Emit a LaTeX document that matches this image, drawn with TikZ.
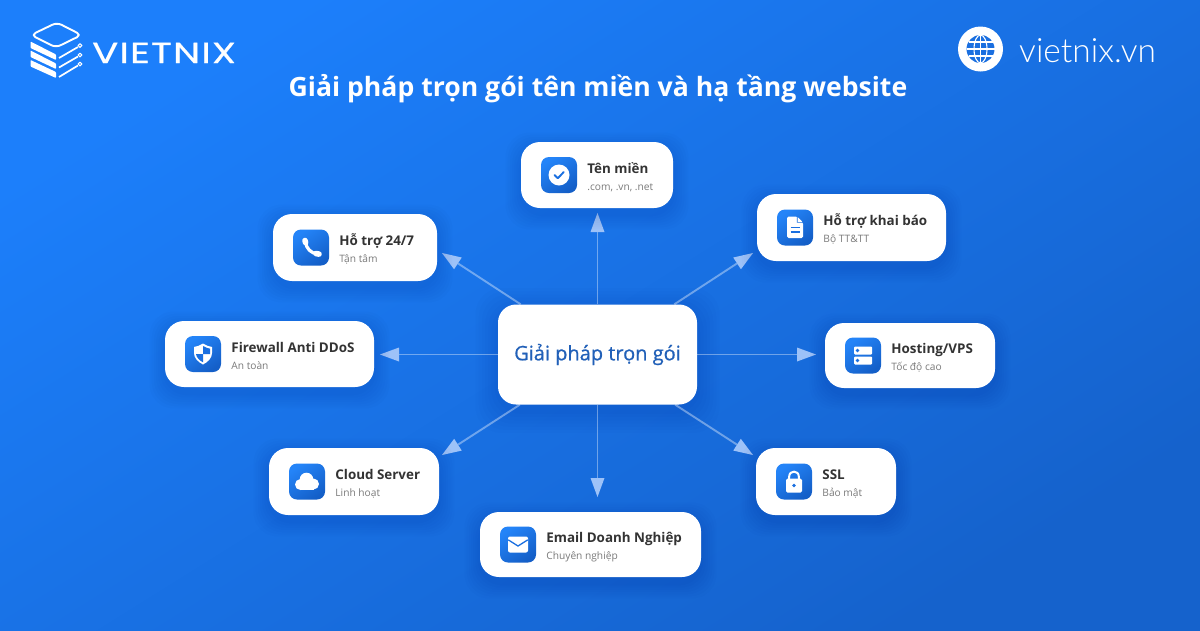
\documentclass[tikz,border=0pt]{standalone}
\usepackage{graphicx,pgf}
\usepackage{tikz}
\usepackage{fontspec}
\setmainfont{Open Sans}
\newfontfamily\hubfont[FakeBold=.7]{Open Sans}
\newfontfamily\logofont[FakeStretch=1.33,LetterSpace=4,FakeBold=.8]{Poppins}
\newfontfamily\sitefont{Lato Light}
\usetikzlibrary{positioning,arrows.meta}

\definecolor{bgtop}{HTML}{1C7FFB}
\definecolor{bgbot}{HTML}{1562CC}
\definecolor{icontop}{HTML}{2484F8}
\definecolor{iconbot}{HTML}{145FC8}
\definecolor{icondark}{HTML}{1A6FE0}
\definecolor{hubtext}{HTML}{2160B8}
\definecolor{titletext}{HTML}{333333}
\definecolor{subtext}{HTML}{7A7A7A}
\definecolor{headblue}{HTML}{9DC2F8}

\tikzset{
  cardbox/.style={fill=white, rounded corners=19pt, inner sep=0pt},
  iconbox/.style={rounded corners=8pt, minimum size=36pt, inner sep=0pt, top color=icontop, bottom color=iconbot, shading angle=35},
  cardtitle/.style={inner sep=0pt, anchor=base west, text=titletext, font=\fontsize{13.4}{16}\selectfont\bfseries},
  cardsub/.style={inner sep=0pt, anchor=base west, text=subtext, font=\fontsize{10.2}{12}\selectfont},
  link/.style={draw=white, draw opacity=.38, line width=1.9pt, -{Triangle[length=19pt,width=14pt,color=headblue,fill=headblue,line width=0pt]}},
  glyph/.style={fill=white, draw=none},
  glyphline/.style={draw=icondark, line width=1.6pt, line cap=round, line join=round},
}

% shadow, box, icon and both texts of one card
\newcommand{\softshadow}[6]{
  \foreach \g in {1,...,7}{
    \fill[black!60!blue, opacity=.014, rounded corners=#6pt]
      ({#1-#3/2-\g*#5},{#2-#4/2-\g*#5+6}) rectangle ({#1+#3/2+\g*#5},{#2+#4/2+\g*#5+6});
  }
}
\newcommand{\card}[7]{
  \softshadow{#2}{#3}{#4}{#5}{2.2}{24}
  \node[cardbox, minimum width=#4pt, minimum height=#5pt] (#1) at (#2,#3) {};
  \node[iconbox, right=20pt of #1.west] (#1-icon) {};
  \node[cardtitle] (#1-title) at ([xshift=10pt,yshift=2pt]#1-icon.east) {#6};
  \node[cardsub] (#1-sub) at ([xshift=10pt,yshift=-15pt]#1-icon.east) {#7};
}

\begin{document}
\begin{tikzpicture}[x=1pt,y=-1pt]

\useasboundingbox (0,0) rectangle (1200,630);
\shade[top color=bgtop, bottom color=bgbot, shading angle=32] (0,0) rectangle (1200,630);

\begin{scope}[white, line join=round]
\draw[line width=1.9pt, rounded corners=5pt] (31,35) -- (57,22.5) -- (81.5,35) -- (56,47.5) -- cycle;
\fill[rounded corners=.8pt] (30.5,41.5) -- (56,54.5) -- (56,60) -- (30.5,48) -- cycle;
\fill[rounded corners=.8pt] (30.5,50.5) -- (56,63.5) -- (56,69) -- (30.5,57) -- cycle;
\fill[rounded corners=.8pt] (30.5,60) -- (56,72) -- (56,78) -- (30.5,66.5) -- cycle;
\draw[line width=1.7pt] (59,58) -- (78,47);
\draw[line width=1.7pt] (59,67.5) -- (78,56.5);
\draw[line width=1.7pt] (59,77) -- (78,65.5);
\draw[line width=1pt] (80,45.5) circle (1.9);
\draw[line width=1pt] (80,55) circle (1.9);
\draw[line width=1pt] (80,64) circle (1.9);
\end{scope}
\node[text=white, anchor=base west, inner sep=0pt, font=\logofont\fontsize{29}{30}\selectfont] (brand) at (92,63) {VIETNIX};

\node[circle, fill=white, minimum size=45pt, inner sep=0pt] (globe) at (980.5,49) {};
\begin{scope}[shift={(globe.center)}]
\fill[icondark] (0,0) circle (14);
\draw[white, line width=1.1pt] (0,0) ellipse (6.5 and 14);
\draw[white, line width=1.1pt] (0,-14) -- (0,14);
\draw[white, line width=1.1pt] (-14,0) -- (14,0);
\draw[white, line width=1.1pt] (-12,-7) -- (12,-7);
\draw[white, line width=1.1pt] (-12,7) -- (12,7);
\end{scope}
\node[text=white, anchor=base west, inner sep=0pt, font=\sitefont\fontsize{33.5}{36}\selectfont] (site) at (1019,62.5) {vietnix.vn};

\node[text=white, inner sep=0pt, font=\fontsize{26.6}{30}\selectfont\bfseries] (heading) at (598,89) {Giải pháp trọn gói tên miền và hạ tầng website};

\coordinate (tip-n) at (597.5,213);
\coordinate (tip-ne) at (753,253);
\coordinate (tip-e) at (816,354.5);
\coordinate (tip-se) at (753,455);
\coordinate (tip-s) at (597.5,497);
\coordinate (tip-sw) at (442,455);
\coordinate (tip-w) at (380,354.5);
\coordinate (tip-nw) at (442,253);

\softshadow{597.5}{354.5}{199}{100}{3.2}{26}
\node[cardbox, rounded corners=18pt, minimum width=199pt, minimum height=100pt, text=hubtext, font=\hubfont\fontsize{20}{22}\selectfont] (hub) at (597.5,354.5) {Giải pháp trọn gói};

\draw[link] (hub) -- (tip-n);
\draw[link] (hub) -- (tip-ne);
\draw[link] (hub) -- (tip-e);
\draw[link] (hub) -- (tip-se);
\draw[link] (hub) -- (tip-s);
\draw[link] (hub) -- (tip-sw);
\draw[link] (hub) -- (tip-w);
\draw[link] (hub) -- (tip-nw);

\card{domain}{597}{175}{152}{66}{Tên miền}{.com, .vn, .net}
\card{support}{355}{247.5}{164}{67}{Hỗ trợ 24/7}{Tận tâm}
\card{declare}{851.5}{227.5}{189}{67}{Hỗ trợ khai báo}{Bộ TT\&TT}
\card{firewall}{269.5}{354}{209}{66}{Firewall Anti DDoS}{An toàn}
\card{hosting}{910}{355.5}{170}{65}{Hosting/VPS}{Tốc độ cao}
\card{cloud}{354}{481.5}{170}{67}{Cloud Server}{Linh hoạt}
\card{ssl}{826}{481.5}{140}{67}{SSL}{Bảo mật}
\card{email}{590.5}{544.5}{221}{65}{Email Doanh Nghiệp}{Chuyên nghiệp}

\begin{scope}[shift={(domain-icon.center)}]
\fill[glyph] (0,0) circle (10.5);
\draw[glyphline, line width=1.9pt] (-4.5,0) -- (-1.2,3.2) -- (4.8,-3);
\end{scope}

\begin{scope}[shift={(support-icon.center)}]
\draw[white, line width=3.2pt] (-5.5,-6) .. controls (-5,1) and (0,6) .. (7,6.5);
\draw[white, line width=5.6pt, line cap=round] (-6,-7) -- (-5.4,-4.8);
\draw[white, line width=5.6pt, line cap=round] (5,6) -- (8,6.6);
\end{scope}

\begin{scope}[shift={(firewall-icon.center)}]
\fill[glyph] (0,-10.5) .. controls (3,-8.5) and (6,-7.5) .. (9,-7) -- (9,-1) .. controls (9,4) and (5,8) .. (0,10.5) .. controls (-5,8) and (-9,4) .. (-9,-1) -- (-9,-7) .. controls (-6,-7.5) and (-3,-8.5) .. (0,-10.5) -- cycle;
\fill[icondark] (0,-8) .. controls (2.5,-6.5) and (4.5,-5.8) .. (7,-5.3) -- (7,0) -- (0,0) -- cycle;
\fill[icondark] (0,0) -- (-7,0) .. controls (-6.5,3.5) and (-3.5,6.5) .. (0,8.3) -- cycle;
\end{scope}

\begin{scope}[shift={(declare-icon.center)}]
\fill[glyph, rounded corners=1.5pt] (-8,-11) -- (2,-11) -- (8,-5) -- (8,10.5) -- (-8,10.5) -- cycle;
\fill[icondark] (1.8,-11) -- (1.8,-4.8) -- (8,-4.8) -- (8,-5.5) -- (2.6,-5.5) -- (2.6,-11) -- cycle;
\draw[glyphline, line cap=butt] (-4.5,0) -- (4.5,0);
\draw[glyphline, line cap=butt] (-4.5,4.5) -- (4.5,4.5);
\end{scope}

\begin{scope}[shift={(hosting-icon.center)}]
\fill[glyph, rounded corners=1pt] (-9,-9) rectangle (9,-1);
\fill[glyph, rounded corners=1pt] (-9,1) rectangle (9,9);
\fill[icondark] (-5.5,-5) circle (1.8);
\fill[icondark] (-5.5,5) circle (1.8);
\end{scope}

\begin{scope}[shift={(cloud-icon.center)}]
\fill[glyph] (-6.5,3) circle (5.5);
\fill[glyph] (-0.5,-2) circle (6.8);
\fill[glyph] (6.5,2.5) circle (5.5);
\fill[glyph] (-6.5,2) rectangle (6.5,8);
\end{scope}

\begin{scope}[shift={(ssl-icon.center)}]
\draw[white, line width=2pt] (-4.8,-2) -- (-4.8,-5) .. controls (-4.8,-11.5) and (4.8,-11.5) .. (4.8,-5) -- (4.8,-2);
\fill[glyph, rounded corners=1.5pt] (-8,-3) rectangle (8,11);
\fill[icondark] (0,4) circle (1.8);
\end{scope}

\begin{scope}[shift={(email-icon.center)}]
\fill[glyph, rounded corners=2pt] (-10,-8) rectangle (10,8);
\draw[glyphline, line width=1.3pt, line join=miter] (-9.5,-4.5) -- (0,1.5) -- (9.5,-4.5);
\end{scope}

\end{tikzpicture}
\end{document}
